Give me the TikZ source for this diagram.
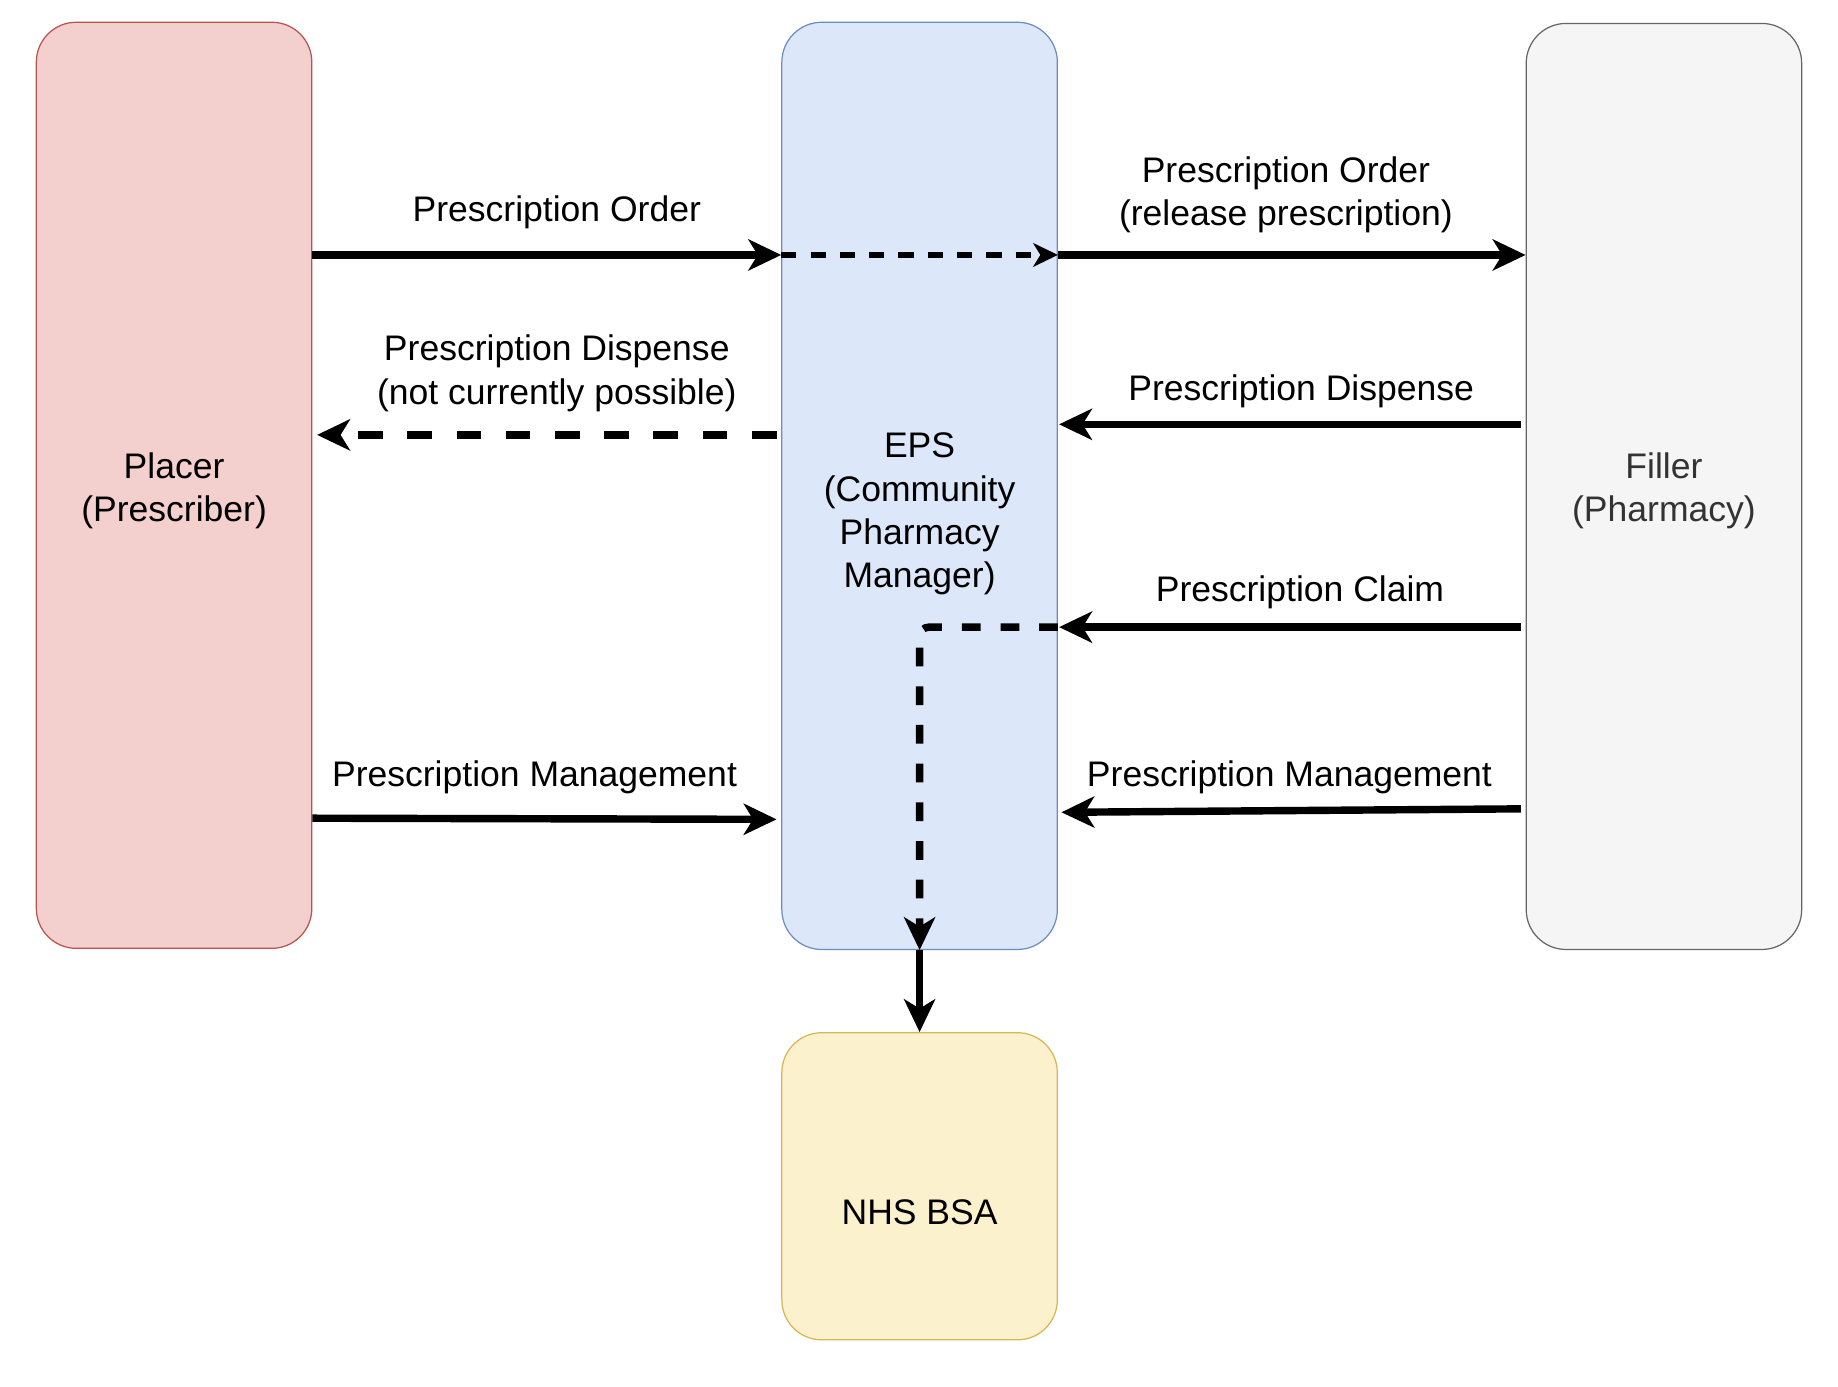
\documentclass[tikz,border=0pt]{standalone}
\usepackage{fontspec}
\setmainfont{Liberation Sans}
\usetikzlibrary{arrows.meta}

\definecolor{placerfill}{HTML}{F3CFCD}
\definecolor{placerline}{HTML}{B85450}
\definecolor{epsfill}{HTML}{DCE7F9}
\definecolor{epsline}{HTML}{6C8EBF}
\definecolor{fillerfill}{HTML}{F5F5F5}
\definecolor{fillerline}{HTML}{666666}
\definecolor{fillertext}{HTML}{333333}
\definecolor{bsafill}{HTML}{FCF1CD}
\definecolor{bsaline}{HTML}{D6B656}

\begin{document}
\begin{tikzpicture}[x=0.2mm,y=-0.2mm,
  font=\fontsize{17.25}{21}\selectfont,
  box/.style={rounded corners=6.8mm,line width=0.6pt,minimum width=47mm,inner sep=0pt},
  flow/.style={line width=3.6pt,-{Stealth[length=5.6mm,width=5.3mm,inset=1.6mm]}},
  thinflow/.style={line width=2.6pt,dash pattern=on 2.6mm off 2.4mm,-{Stealth[length=4.2mm,width=4mm,inset=1.2mm]}},
  lbl/.style={align=center,inner sep=0pt}]
\useasboundingbox (0,0) rectangle (1568,1182.5);

\node[box,draw=placerline,fill=placerfill,minimum height=158mm] (placer) at (148.5,414) {};
\node[box,draw=epsline,fill=epsfill,minimum height=158.2mm] (eps) at (784.5,414.5) {};
\node[box,draw=fillerline,fill=fillerfill,minimum height=158mm] (filler) at (1419.5,415) {};
\node[box,draw=bsaline,fill=bsafill,minimum height=52.4mm] (bsa) at (784.5,1012) {};
\node[lbl] (placertext) at (148.5,419) {Placer\\(Prescriber)};
\node[lbl,text=fillertext] (fillertext) at (1419.5,419) {Filler\\(Pharmacy)};
\node[lbl] (epstext) at (784.5,438.5) {EPS\\(Community\\Pharmacy\\Manager)};
\node[lbl] (bsatext) at (784.5,1034) {NHS BSA};

\draw[flow] (placer.east |- 0,217.5) -- (eps.west |- 0,217.5);
\draw[thinflow] (eps.west |- 0,217.5) -- (eps.east |- 0,217.5);
\draw[flow] (eps.east |- 0,217.5) -- (filler.west |- 0,217.5);
\node[lbl] (ordertext) at (475,181) {Prescription Order};
\node[lbl] (releasetext) at (1097,166) {Prescription Order\\(release prescription)};

\draw[flow,dash pattern=on 4.2mm off 4.2mm,shorten <=0.8mm,shorten >=0.8mm] (eps.west |- 0,371) -- (placer.east |- 0,371);
\node[lbl] (nodispensetext) at (475,318.5) {Prescription Dispense\\(not currently possible)};
\draw[flow,shorten <=0.8mm,shorten >=0.2mm] (filler.west |- 0,362) -- (eps.east |- 0,362);
\node[lbl] (dispensetext) at (1110,333.5) {Prescription Dispense};

\draw[flow,shorten <=0.8mm,shorten >=0.2mm] (filler.west |- 0,535) -- (eps.east |- 0,535);
\draw[flow,dash pattern=on 3.2mm off 3.4mm,rounded corners=1.6mm] (eps.east |- 0,535) -| (eps.south);
\draw[flow] (eps.south) -- (bsa.north);
\node[lbl] (claimtext) at (1109,505.5) {Prescription Claim};

\draw[flow,shorten >=0.8mm] (placer.east |- 0,698) -- (eps.west |- 0,699);
\node[lbl] (placermgmttext) at (456,663.5) {Prescription Management};
\draw[flow,shorten <=0.8mm,shorten >=0.6mm] (filler.west |- 0,690) -- (eps.east |- 0,693);
\node[lbl] (fillermgmttext) at (1100,663.5) {Prescription Management};
\end{tikzpicture}
\end{document}
